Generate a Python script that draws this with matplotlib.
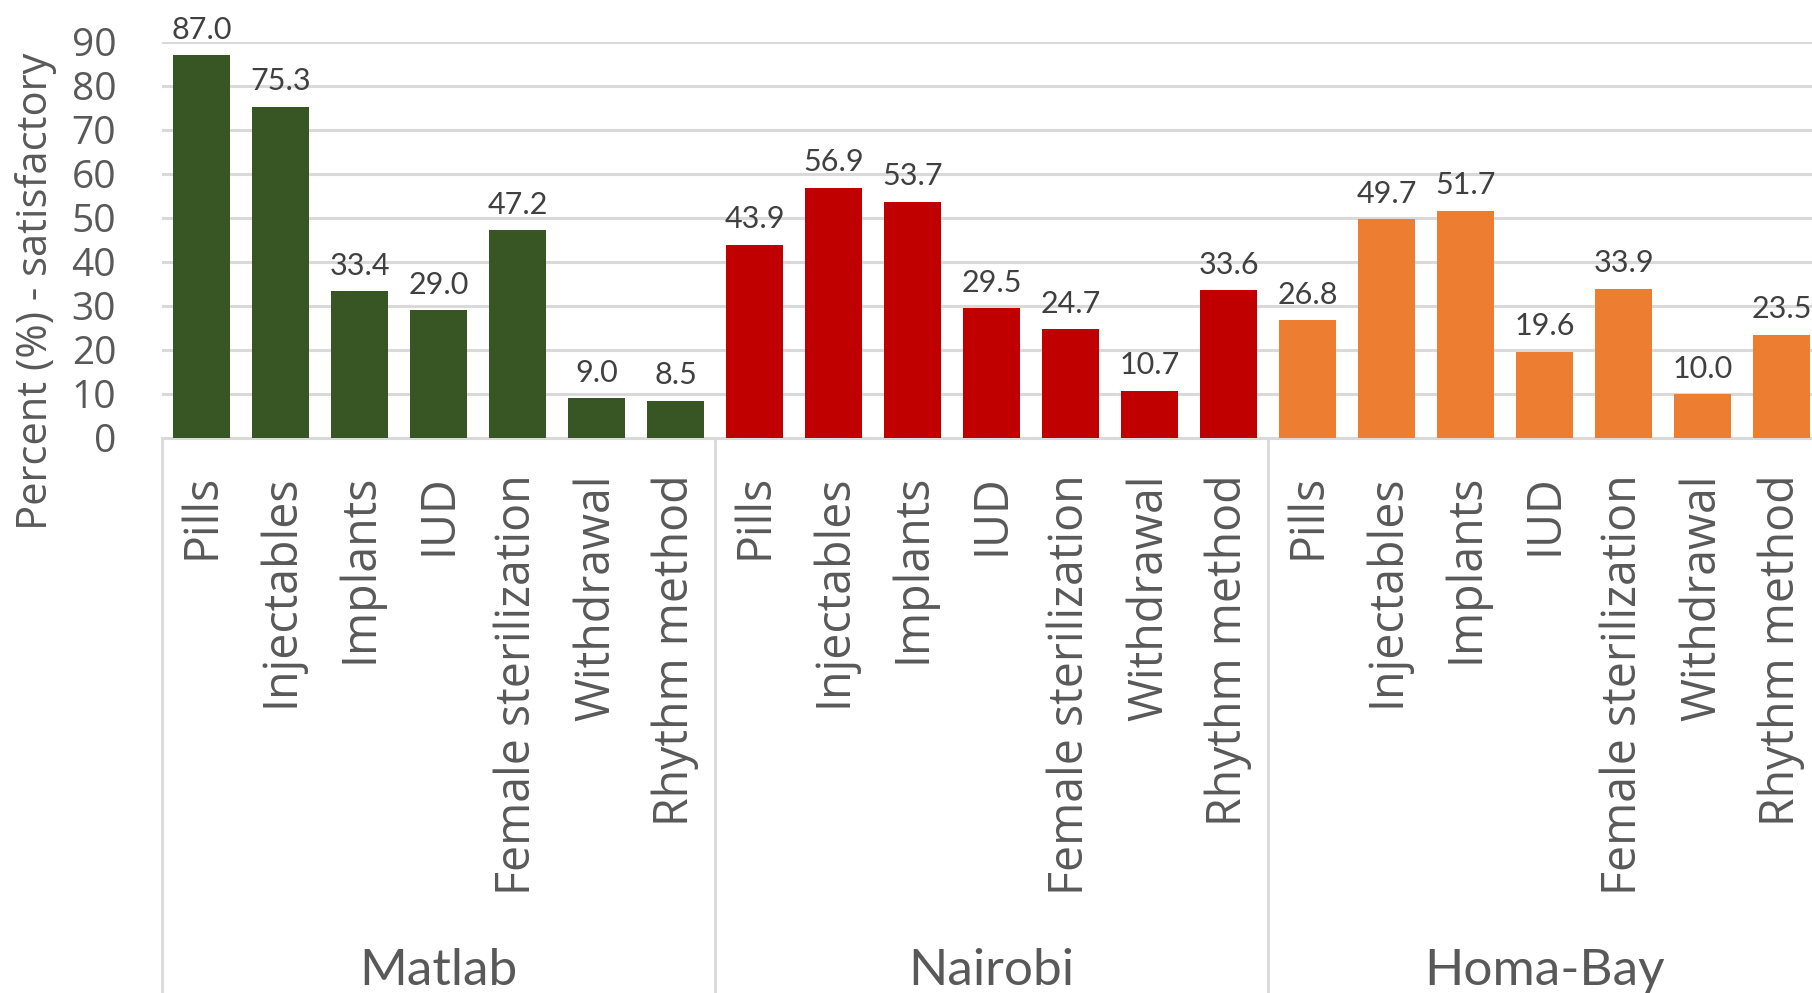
import matplotlib.pyplot as plt
import numpy as np

# Data
methods = ['Pills', 'Injectables', 'Implants', 'IUD', 'Female sterilization',
           'Withdrawal', 'Rhythm method']
sites = ['Matlab', 'Nairobi', 'Homa-Bay']
matlab = [87.0, 75.3, 33.4, 29.0, 47.2, 9.0, 8.5]
nairobi = [43.9, 56.9, 53.7, 29.5, 24.7, 10.7, 33.6]
homabay = [26.8, 49.7, 51.7, 19.6, 33.9, 10.0, 23.5]
colors = ['#375623', '#C00000', '#ED7D31']

W, H = 1812, 993
fig = plt.figure(figsize=(W / 100, H / 100), dpi=100)
# plot area in pixels: left 162, 79 px per category (runs slightly past the
# right edge), zero line at y=438, 90 line at y=42
right = 162 + 21 * 79
ax = fig.add_axes([162 / W, (H - 438) / H, (right - 162) / W, (438 - 42) / H])

text_gray = '#595959'
grid_gray = '#D9D9D9'
n = len(methods)

for g, (vals, col) in enumerate(zip([matlab, nairobi, homabay], colors)):
    x = np.arange(n) + g * n
    ax.bar(x, vals, width=0.72, color=col, zorder=3)
    for xi, v in zip(x, vals):
        ax.text(xi, v + 2.6, f'{v:.1f}', ha='center', va='bottom',
                fontsize=22, color='#404040', family='Lato')

ax.set_xlim(-0.5, 3 * n - 0.5)
ax.set_ylim(0, 90)
ax.set_yticks(np.arange(0, 91, 10))
ax.yaxis.grid(True, color=grid_gray, linewidth=2.2, zorder=0)
ax.set_axisbelow(True)
for s in ['top', 'right', 'left']:
    ax.spines[s].set_visible(False)
ax.spines['bottom'].set_color(grid_gray)
ax.spines['bottom'].set_linewidth(2.2)

ax.tick_params(axis='y', length=0, pad=33, labelsize=28, labelcolor=text_gray)
for lab in ax.get_yticklabels():
    lab.set_family('Open Sans')

ax.set_xticks(np.arange(3 * n))
ax.set_xticklabels(methods * 3, rotation=90, family='Open Sans',
                   fontsize=33.5, color=text_gray)
ax.tick_params(axis='x', length=0, pad=26)

# group labels and separators
trans = ax.get_xaxis_transform()
ax_h = 438 - 42
for g, site in enumerate(sites):
    ax.text(g * n + (n - 1) / 2, -(971 - 438) / ax_h, site, transform=trans,
            ha='center', va='center', fontsize=37, color=text_gray, family='Lato')
for b in [-0.5, n - 0.5, 2 * n - 0.5]:
    ax.plot([b, b], [0, -(H - 438) / ax_h], transform=trans, color=grid_gray,
            linewidth=2, clip_on=False)

fig.text(36 / W, 1 - 291 / H, 'Percent (%) - satisfactory', rotation=90,
         ha='center', va='center', fontsize=30, color=text_gray, family='Open Sans')

fig.savefig('out.png', dpi=100)
